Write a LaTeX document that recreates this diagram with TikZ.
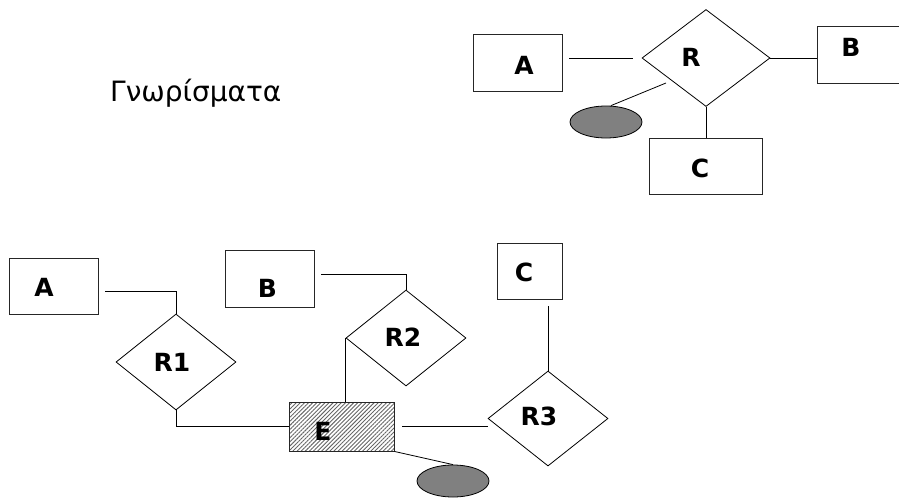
\documentclass[tikz,border=0pt]{standalone}
\usepackage{fontspec}
\setmainfont{DejaVu Sans}
\usetikzlibrary{shapes.geometric,patterns.meta,calc}
\tikzset{
  ent/.style={draw=black!85,line width=0.8pt,rectangle,inner sep=0pt},
  rel/.style={draw=black,line width=0.8pt,diamond,inner sep=0pt,minimum width=120pt,minimum height=96pt},
  attr/.style={draw=black,line width=0.8pt,ellipse,fill=black!50,inner sep=0pt,minimum width=72pt,minimum height=32pt},
  lbl/.style={inner sep=0pt,font=\fontsize{25}{30}\selectfont\bfseries},
  conn/.style={draw=black,line width=0.8pt},
  weak/.style={ent,pattern={Lines[angle=45,distance=2.9pt,line width=0.9pt]},pattern color=black!60}
}
\begin{document}
\begin{tikzpicture}[x=1pt,y=-1pt]
\useasboundingbox (0,0) rectangle (899,498);
% ---------- top part ----------
\node[inner sep=0pt,anchor=base west,font=\fontsize{28}{32}\selectfont] (title) at (110,101) {Γνωρίσματα};

\node[ent,minimum width=89pt,minimum height=57pt] (A1) at (517.5,62.5) {};
\node[lbl] (A1l) at (524,65) {A};
\node[rel,minimum width=128pt,minimum height=97pt] (R) at (706,58) {};
\node[lbl] (Rl) at (691,57) {R};
\node[ent,minimum width=88pt,minimum height=57pt] (B1) at (861,54.5) {};
\node[lbl] (B1l) at (851,47) {B};
\node[ent,minimum width=113pt,minimum height=56pt] (C1) at (705.5,166) {};
\node[lbl] (C1l) at (700,168) {C};
\node[attr] (E1) at (606,122) {};
\coordinate (Rattr) at (666,83);

\draw[conn,shorten <=7pt,shorten >=9pt] (A1.east |- R.west) -- (R.west);
\draw[conn] (R.east) -- (R.east -| B1.west);
\draw[conn] (R.south) -- (R.south |- C1.north);
\draw[conn] ($(E1.north)+(5,0)$) -- (Rattr);

% ---------- bottom part ----------
\node[ent,minimum width=89pt,minimum height=56pt] (A2) at (53.5,286) {};
\node[lbl] (A2l) at (44,287) {A};
\node[rel] (R1) at (176,362) {};
\node[lbl] (R1l) at (172,362) {R1};
\node[ent,minimum width=89pt,minimum height=57pt] (B2) at (269.5,278.5) {};
\node[lbl] (B2l) at (267.5,288) {B};
\node[rel] (R2) at (406,338) {};
\node[lbl] (R2l) at (403,337) {R2};
\node[ent,minimum width=65pt,minimum height=56pt] (C2) at (529.5,271) {};
\node[lbl] (C2l) at (524,272) {C};
\node[rel,minimum height=95pt] (R3) at (548,418.5) {};
\node[lbl] (R3l) at (539,416) {R3};
\node[weak,minimum width=105pt,minimum height=49pt] (E) at (341.5,426.5) {};
\node[lbl] (El) at (323,431) {E};
\node[attr] (E2) at (453,481) {};

\draw[conn] ($(A2.east)+(7,5)$) -| (R1.north);
\draw[conn] (R1.south) |- (E.west);
\draw[conn] ($(B2.east)+(7,-4.5)$) -| (R2.north);
\draw[conn] (R2.west) -- (R2.west |- E.north);
\draw[conn,shorten <=7pt] (C2.south -| R3.north) -- (R3.north);
\draw[conn,shorten <=8pt] (E.east) -- (E.east -| R3.west);
\draw[conn] (E.south east) -- (E2.north);
\end{tikzpicture}
\end{document}
